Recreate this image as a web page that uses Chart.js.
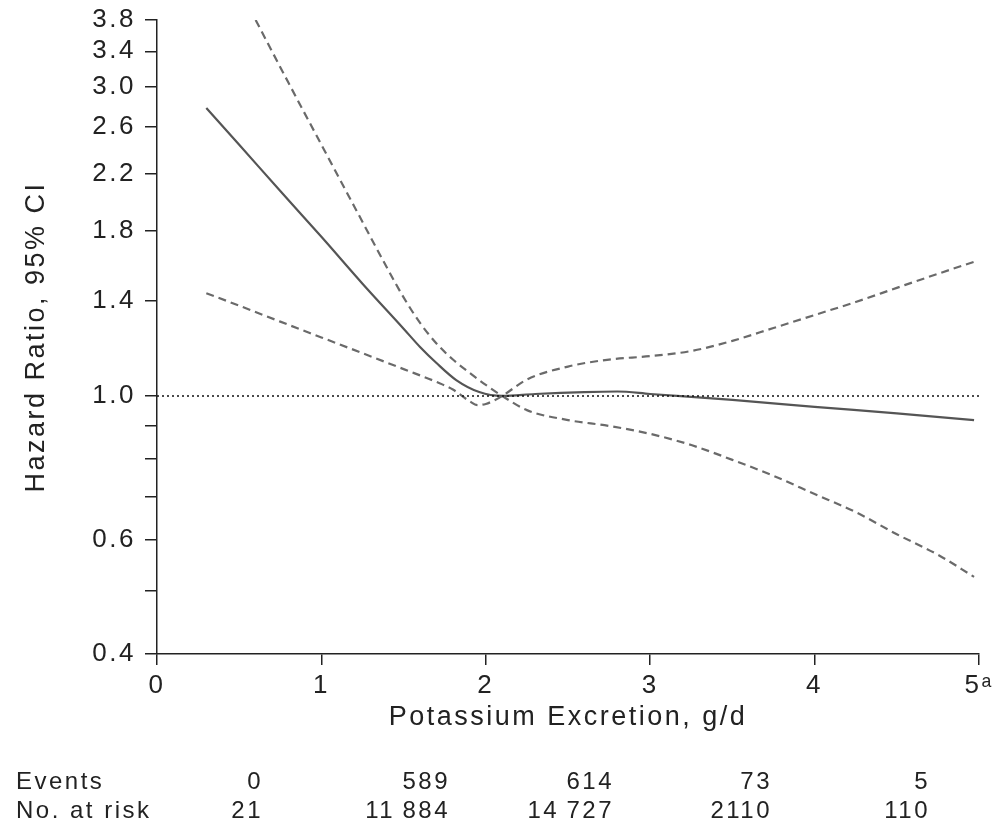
<!DOCTYPE html>
<html><head><meta charset="utf-8">
<style>html,body{margin:0;padding:0;background:#fff;}#wrap{width:1000px;height:832px;}</style>
<script src="https://cdn.jsdelivr.net/npm/chart.js@4.4.1/dist/chart.umd.min.js"></script>
</head><body><div id="wrap"><canvas id="c" width="1000" height="832"></canvas></div>
<script>
// ---- data ----
const hrX      = [0.3, 0.5, 0.75, 1.0, 1.25, 1.5, 1.6, 1.7, 1.82, 1.96, 2.1, 2.3, 2.6, 2.8, 3.0, 3.5, 4.0, 4.5, 4.97];
const hrValues = [2.78, 2.44, 2.07, 1.76, 1.49, 1.27, 1.19, 1.124, 1.058, 1.014, 1.0, 1.007, 1.014, 1.016, 1.007, 0.986, 0.962, 0.94, 0.918];

// CI curve steep on the left (upper bound below 2.1 g/d, lower bound above)
const ciAX     = [0.6, 0.8, 1.0, 1.2, 1.4, 1.5, 1.6, 1.7, 1.8, 1.9, 2.0, 2.1, 2.25, 2.5, 2.75, 3.0, 3.25, 3.5, 3.75, 4.0, 4.25, 4.5, 4.75, 4.97];
const ciAVals  = [3.8, 3.04, 2.44, 1.96, 1.575, 1.419, 1.296, 1.205, 1.138, 1.086, 1.04, 1.0, 0.951, 0.918, 0.899, 0.874, 0.84, 0.797, 0.753, 0.706, 0.662, 0.612, 0.569, 0.526];

// CI curve gentle on the left (lower bound below 2.1 g/d, upper bound above)
const ciBX     = [0.3, 0.5, 0.75, 1.0, 1.25, 1.5, 1.7, 1.8, 1.9, 1.95, 2.0, 2.05, 2.1, 2.25, 2.5, 2.75, 3.0, 3.25, 3.5, 3.75, 4.0, 4.25, 4.5, 4.75, 4.97];
const ciBVals  = [1.44, 1.378, 1.302, 1.231, 1.164, 1.10, 1.051, 1.023, 0.982, 0.968, 0.972, 0.984, 1.0, 1.06, 1.11, 1.138, 1.152, 1.173, 1.216, 1.273, 1.333, 1.396, 1.468, 1.543, 1.61];

const refX = [0, 5];
const refVals = [1.0, 1.0];

const yTickValues = [0.4, 0.5, 0.6, 0.7, 0.8, 0.9, 1.0, 1.4, 1.8, 2.2, 2.6, 3.0, 3.4, 3.8];
const yTickLabels = ['0.4', '', '0.6', '', '', '', '1.0', '1.4', '1.8', '2.2', '2.6', '3.0', '3.4', '3.8'];
const xTickValues = [0, 1, 2, 3, 4, 5];
const xTickLabels = ['0', '1', '2', '3', '4', '5\u1D43'];

const tableRowLabels = ['Events', 'No. at risk'];
const eventsRow = ['0', '589', '614', '73', '5'];
const atRiskRow = ['21', '11\u2009884', '14\u2009727', '2110', '110'];

const xTitle = 'Potassium Excretion, g/d';
const yTitle = 'Hazard Ratio, 95% CI';

// ---- chart ----
const FAMILY = "'Liberation Sans', Arial, Helvetica, sans-serif";
const INK = '#222';
const SPACING = '2.5px';
const toPts = (xs, ys) => xs.map((x, i) => ({x: x, y: ys[i]}));

const spacingPlugin = {
  id: 'spacing',
  afterInit(chart) { chart.ctx.letterSpacing = SPACING; },
  beforeUpdate(chart) { chart.ctx.letterSpacing = SPACING; },
  beforeDraw(chart) { chart.ctx.letterSpacing = SPACING; }
};

const tablePlugin = {
  id: 'riskTable',
  afterDraw(chart) {
    const ctx = chart.ctx;
    ctx.save();
    ctx.letterSpacing = SPACING;
    ctx.font = '24px ' + FAMILY;
    ctx.fillStyle = INK;
    ctx.textBaseline = 'middle';
    const rowY = [782, 811];
    const colRight = [263, 450, 614, 772, 930];
    ctx.textAlign = 'left';
    tableRowLabels.forEach((t, i) => ctx.fillText(t, 16, rowY[i]));
    ctx.textAlign = 'right';
    [eventsRow, atRiskRow].forEach((row, r) => {
      row.forEach((t, i) => ctx.fillText(t, colRight[i], rowY[r]));
    });
    ctx.restore();
  }
};

new Chart(document.getElementById('c').getContext('2d'), {
  type: 'line',
  data: {
    datasets: [
      {label: 'Reference', data: toPts(refX, refVals), borderColor: '#111', borderWidth: 1.6,
       borderDash: [2, 3], pointRadius: 0, tension: 0},
      {label: '95% CI (a)', data: toPts(ciAX, ciAVals), borderColor: '#6a6a6a', borderWidth: 2.2,
       borderDash: [8, 5], pointRadius: 0, cubicInterpolationMode: 'monotone'},
      {label: '95% CI (b)', data: toPts(ciBX, ciBVals), borderColor: '#6a6a6a', borderWidth: 2.2,
       borderDash: [8, 5], pointRadius: 0, cubicInterpolationMode: 'monotone'},
      {label: 'Hazard ratio', data: toPts(hrX, hrValues), borderColor: '#555', borderWidth: 2.2,
       pointRadius: 0, cubicInterpolationMode: 'monotone'}
    ]
  },
  options: {
    responsive: false, animation: false, devicePixelRatio: 1,
    layout: {padding: {left: 0, right: 21, top: 20, bottom: 98}},
    plugins: {legend: {display: false}, tooltip: {enabled: false}},
    scales: {
      x: {
        type: 'linear', min: 0, max: 5,
        afterBuildTicks: s => { s.ticks = xTickValues.map(v => ({value: v})); },
        ticks: {callback: (v, i) => xTickLabels[i], font: {family: FAMILY, size: 26}, color: INK,
                padding: 5, maxRotation: 0, autoSkip: false},
        grid: {drawOnChartArea: false, drawTicks: true, tickLength: 11, color: INK, lineWidth: 1.5},
        border: {display: true, color: INK, width: 1.5},
        title: {display: true, text: xTitle, font: {family: FAMILY, size: 27}, color: INK,
                padding: {top: 0, bottom: 0}},
        afterFit: s => { s.height = 80; s.paddingLeft = 0; s.paddingRight = 0; }
      },
      y: {
        type: 'logarithmic', min: 0.4, max: 3.8,
        afterBuildTicks: s => { s.ticks = yTickValues.map(v => ({value: v})); },
        ticks: {callback: (v, i) => yTickLabels[i], font: {family: FAMILY, size: 26}, color: INK,
                padding: 9, autoSkip: false},
        grid: {drawOnChartArea: false, drawTicks: true, tickLength: 12, color: INK, lineWidth: 1.5},
        border: {display: true, color: INK, width: 1.5},
        title: {display: true, text: yTitle, font: {family: FAMILY, size: 27}, color: INK,
                padding: {top: 20, bottom: 0}},
        afterFit: s => { s.width = 157; s.paddingTop = 0; s.paddingBottom = 0; }
      }
    }
  },
  plugins: [spacingPlugin, tablePlugin]
});
</script>
</body></html>
